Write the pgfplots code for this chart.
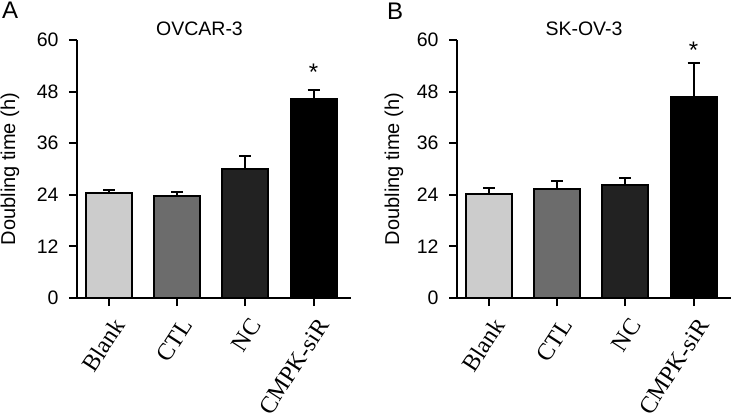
\documentclass[border=0pt]{standalone}
\usepackage{pgfplots}
\pgfplotsset{compat=1.18}
\usepackage{fontspec}
\setmainfont{Liberation Sans}
\newfontfamily\serifx{Liberation Serif}
\definecolor{cBlank}{RGB}{204,204,204}
\definecolor{cCTL}{RGB}{108,108,108}
\definecolor{cNC}{RGB}{34,34,34}
\definecolor{cCMPK}{RGB}{0,0,0}
\pgfplotsset{
  panel/.style={
    scale only axis, width=274pt, height=258pt,
    xmin=-0.47, xmax=3.55, ymin=0, ymax=60,
    axis x line*=bottom, axis y line*=left,
    axis line style={line width=2pt},
    ytick={0,12,24,36,48,60},
    xtick={0,1,2,3},
    xticklabels={Blank,CTL,NC,CMPK-siR},
    tick align=outside,
    major tick length=8pt,
    tick style={line width=2pt, black},
    /pgf/number format/assume math mode=true,
    yticklabel style={font=\fontsize{19.5}{19.5}\selectfont, xshift=-7pt},
    xticklabel style={font=\fontsize{24}{24}\serifx, anchor=east, inner sep=0pt, xshift=10pt, yshift=-15pt, rotate=57},
    ybar, bar width=46pt, bar shift=0pt,
    every axis plot/.append style={draw=black, line width=2pt},
    error bars/y dir=plus, error bars/y explicit,
    error bars/error bar style={line width=2pt, black},
    error bars/error mark options={rotate=90, mark size=6pt, line width=2pt, black},
    clip=false,
  }
}
\begin{document}
\begin{tikzpicture}
\path[use as bounding box] (0,0) rectangle (733pt,-420pt);
% Panel A
\begin{axis}[panel, at={(77pt,-298pt)}, anchor=south west]
\addplot[fill=cBlank] coordinates {(0,24.4) +- (0,0.7)};
\addplot[fill=cCTL] coordinates {(1,23.7) +- (0,0.9)};
\addplot[fill=cNC] coordinates {(2,30.0) +- (0,3.0)};
\addplot[fill=cCMPK] coordinates {(3,46.3) +- (0,2.1)};
\node[font=\fontsize{24}{24}\selectfont] at (axis cs:3,52.4) {*};
\end{axis}
% Panel B
\begin{axis}[panel, at={(457pt,-298pt)}, anchor=south west]
\addplot[fill=cBlank] coordinates {(0,24.2) +- (0,1.4)};
\addplot[fill=cCTL] coordinates {(1,25.3) +- (0,1.9)};
\addplot[fill=cNC] coordinates {(2,26.3) +- (0,1.6)};
\addplot[fill=cCMPK] coordinates {(3,46.7) +- (0,7.9)};
\node[font=\fontsize{24}{24}\selectfont] at (axis cs:3,57.6) {*};
\end{axis}
% titles and labels
\node[font=\fontsize{19.5}{19.5}\selectfont] at (199.5pt,-28.5pt) {OVCAR-3};
\node[font=\fontsize{19.5}{19.5}\selectfont] at (584pt,-28.5pt) {SK-OV-3};
\node[font=\fontsize{20}{20}\selectfont, rotate=90] at (10pt,-169pt) {Doubling time (h)};
\node[font=\fontsize{20}{20}\selectfont, rotate=90] at (394pt,-169pt) {Doubling time (h)};
\node[font=\fontsize{24}{24}\selectfont, anchor=north west, inner sep=0pt] at (2pt,-2pt) {A};
\node[font=\fontsize{24}{24}\selectfont, anchor=north west, inner sep=0pt] at (387pt,-3pt) {B};
\end{tikzpicture}
\end{document}
